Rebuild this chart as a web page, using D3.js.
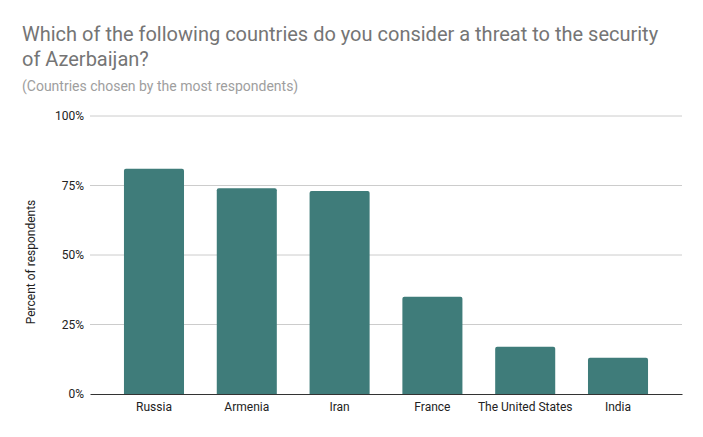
<!DOCTYPE html>
<html>
<head>
<meta charset="utf-8">
<script src="https://cdn.jsdelivr.net/npm/d3@7"></script>
<style>
  body { margin: 0; background: #fff; }
  text { font-family: Roboto, sans-serif; }
</style>
</head>
<body>
<svg id="chart" width="703" height="437"></svg>
<script>
const countries = ["Russia", "Armenia", "Iran", "France", "The United States", "India"];
const percents = [81, 74, 73, 35, 17, 13];
const yTicks = [0, 25, 50, 75, 100];

const svg = d3.select("#chart");
const margin = { top: 116, right: 21, bottom: 43, left: 90 };
const width = 703, height = 437;
const innerWidth = width - margin.left - margin.right;
const innerHeight = height - margin.top - margin.bottom;

// titles
svg.append("text").attr("x", 22).attr("y", 41)
  .attr("font-size", 20).attr("fill", "#757575")
  .text("Which of the following countries do you consider a threat to the security");
svg.append("text").attr("x", 22).attr("y", 66)
  .attr("font-size", 20).attr("fill", "#757575")
  .text("of Azerbaijan?");
svg.append("text").attr("x", 22).attr("y", 91)
  .attr("font-size", 14).attr("fill", "#9e9e9e")
  .text("(Countries chosen by the most respondents)");

const g = svg.append("g").attr("transform", `translate(${margin.left},${margin.top})`);

const x = d3.scaleBand().domain(countries).range([0, innerWidth])
  .paddingInner(0.353).paddingOuter(0.366);
const y = d3.scaleLinear().domain([0, 100]).range([innerHeight, 0]);

// gridlines
g.append("g").selectAll("line").data(yTicks.filter(d => d > 0)).join("line")
  .attr("x1", 0).attr("x2", innerWidth)
  .attr("y1", d => y(d)).attr("y2", d => y(d))
  .attr("stroke", "#cccccc").attr("stroke-width", 1);

// y axis labels
const yAxis = d3.axisLeft(y).tickValues(yTicks).tickSize(0).tickPadding(6).tickFormat(d => d + "%");
g.append("g").call(yAxis)
  .attr("font-family", "Roboto, sans-serif").attr("font-size", 12)
  .call(a => a.select(".domain").remove())
  .selectAll("text").attr("fill", "#222");

// bars with slightly rounded tops
const r = 2;
g.append("g").selectAll("path").data(percents).join("path")
  .attr("fill", "#3f7c7a")
  .attr("d", (d, i) => {
    const x0 = x(countries[i]), w = x.bandwidth(), y0 = y(d), y1 = y(0);
    return `M${x0},${y1}V${y0 + r}Q${x0},${y0} ${x0 + r},${y0}H${x0 + w - r}Q${x0 + w},${y0} ${x0 + w},${y0 + r}V${y1}Z`;
  });

// x axis
const xAxis = d3.axisBottom(x).tickSize(0).tickPadding(8);
g.append("g").attr("transform", `translate(0,${innerHeight})`).call(xAxis)
  .attr("font-family", "Roboto, sans-serif").attr("font-size", 12)
  .call(a => a.select(".domain").attr("stroke", "#333").attr("stroke-width", 1))
  .selectAll("text").attr("fill", "#222");

// y axis title
svg.append("text")
  .attr("transform", `translate(35,262) rotate(-90)`)
  .attr("text-anchor", "middle").attr("font-size", 12).attr("fill", "#222")
  .text("Percent of respondents");
</script>
</body>
</html>
